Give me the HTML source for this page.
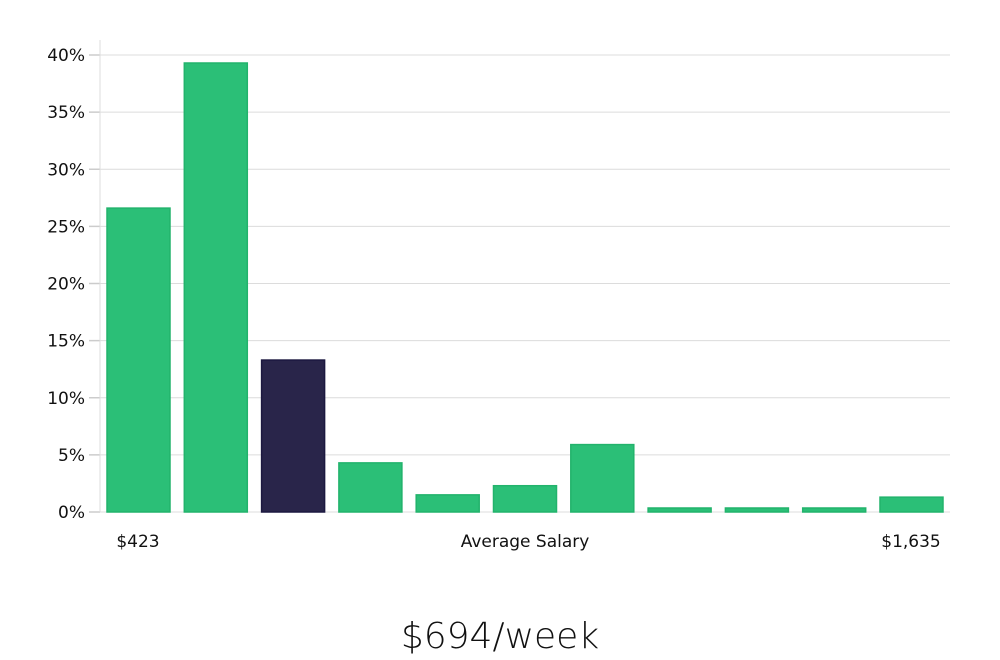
<!DOCTYPE html>
<html><head><meta charset="utf-8"><style>
body{margin:0;background:#fff;width:1000px;height:660px;overflow:hidden}
svg{display:block}
text{font-family:"DejaVu Sans","Liberation Sans",sans-serif;fill:#111}
</style></head><body>
<svg id="chart" width="1000" height="660">
<g id="grid"></g>
<g id="yaxis"></g>
<g id="bars"></g>
<text x="138" y="547" text-anchor="middle" font-size="17">$423</text>
<text x="525" y="547" text-anchor="middle" font-size="17">Average Salary</text>
<text x="911" y="547" text-anchor="middle" font-size="17">$1,635</text>
<text x="500" y="648" text-anchor="middle" font-size="36" font-family="Liberation Sans, sans-serif" style="font-weight:300">$694/week</text>
</svg>
<script>
const values = [26.6, 39.3, 13.3, 4.3, 1.5, 2.3, 5.9, 0.35, 0.35, 0.35, 1.3];
const highlighted = [false, false, true, false, false, false, false, false, false, false, false];
const yTicks = [0, 5, 10, 15, 20, 25, 30, 35, 40];
const yTickLabels = ["0%","5%","10%","15%","20%","25%","30%","35%","40%"];
const NS="http://www.w3.org/2000/svg";
const y0=512, pxPer=(512-55)/40, left=100, right=950, slotStart=103.5, slot=77.3, bw=63;
const ys=v=>y0-v*pxPer;
const grid=document.getElementById('grid'), yax=document.getElementById('yaxis'), bars=document.getElementById('bars');
function mk(t,a,p){const e=document.createElementNS(NS,t);for(const k in a)e.setAttribute(k,a[k]);p.appendChild(e);return e;}
yTicks.forEach((t,i)=>{
  const l=mk('line',{x1:left,x2:right,y1:ys(t),y2:ys(t),stroke:'#dcdcdc','stroke-width':1},grid);
  
  
  const tk=mk('line',{x1:89,x2:left,y1:ys(t),y2:ys(t),stroke:'#ccc','stroke-width':1.5},yax);
  
  
  const tx=mk('text',{x:85,y:ys(t)+6,'text-anchor':'end','font-size':17},yax);
  tx.textContent=yTickLabels[i];
  
  
});
const ax=mk('line',{x1:left,x2:left,y1:40,y2:y0,stroke:'#ddd','stroke-width':1},yax);


values.forEach((v,i)=>{
  const x=slotStart+i*slot+3.5;
  const r=mk('rect',{x:x,y:ys(v),width:bw,height:y0-ys(v),fill:highlighted[i]?'#29254a':'#2bbf77',stroke:highlighted[i]?'#1c1840':'#22b36c','stroke-width':1.5},bars);
  
  
});
</script>
</body></html>
